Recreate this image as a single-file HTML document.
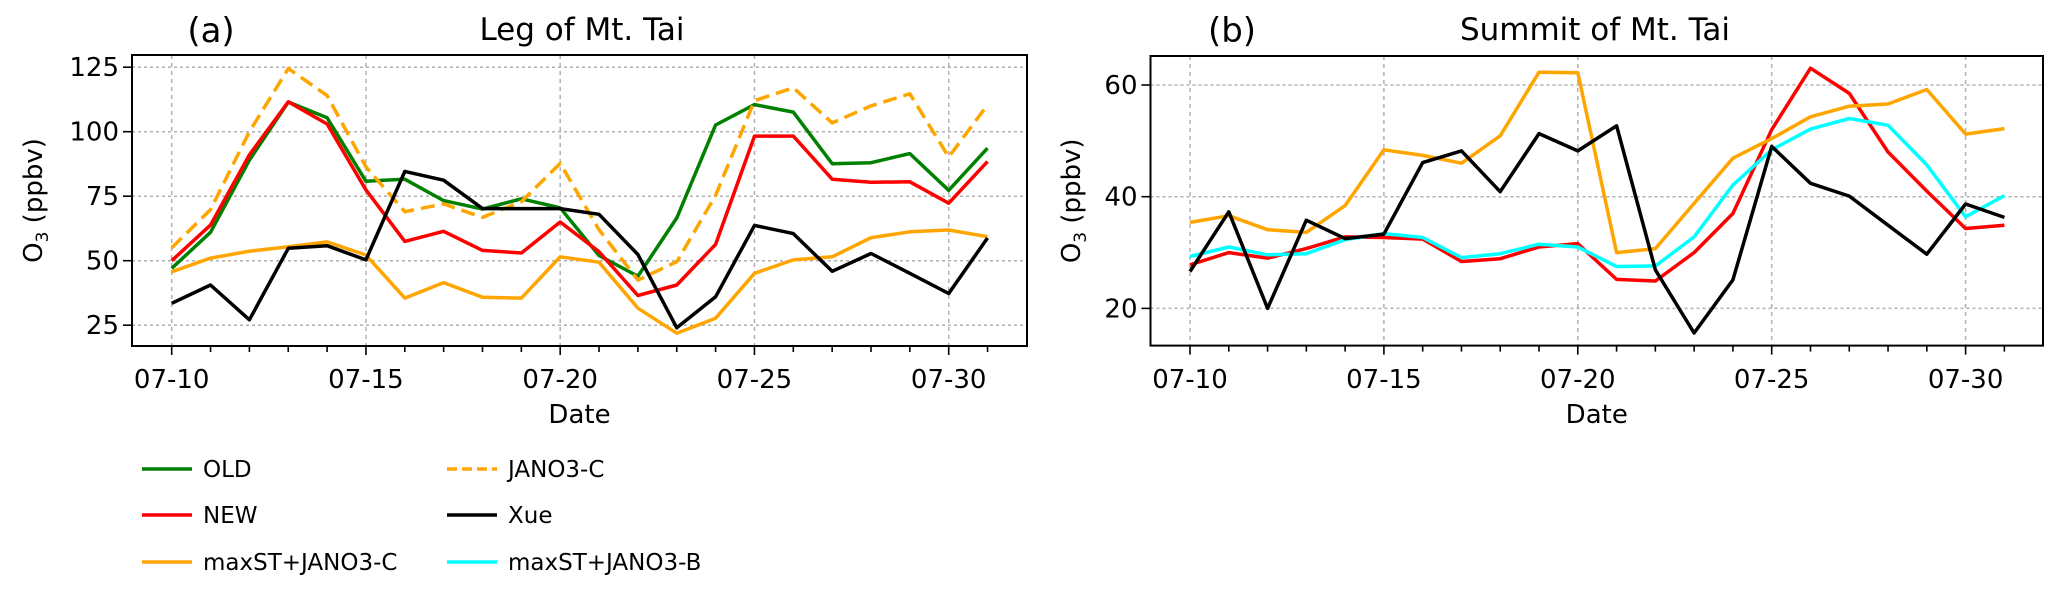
<!DOCTYPE html>
<html><head><meta charset="utf-8"><style>
html,body{margin:0;padding:0;background:#fff;}
svg text{font-family:"DejaVu Sans","Liberation Sans",sans-serif;fill:#000;}
</style></head><body>
<svg id="chart" xmlns="http://www.w3.org/2000/svg" width="2067" height="589" viewBox="0 0 2067 589"></svg>
<script>
const days = [10,11,12,13,14,15,16,17,18,19,20,21,22,23,24,25,26,27,28,29,30,31];
const xTickDays = [10,15,20,25,30];
const xTickLabels = ["07-10","07-15","07-20","07-25","07-30"];
const aYTicks = [25,50,75,100,125];
const bYTicks = [20,40,60];
// Panel (a) Leg of Mt. Tai
const aOLD = [47,61,89,111.5,105.4,80.8,81.6,73.3,70,74,70.5,52,44,66.6,102.6,110.5,107.6,87.6,88,91.5,77.3,93.6];
const aNEW = [50,63.8,91,111.6,103,77.5,57.5,61.4,54,53,65,53.5,36.5,40.6,56.3,98.3,98.3,81.6,80.4,80.6,72.3,88.4];
const aJANO3C = [55,69.8,100,124.5,114,86.4,69,72,66.8,72.9,87.7,62,42.5,49.6,75.3,112,117,103.4,110,114.7,90.2,110.4];
const aMaxC = [45.7,51,53.7,55.4,57.3,52.2,35.5,41.5,35.8,35.5,51.5,49.4,31.6,21.9,27.7,45.1,50.3,51.5,58.9,61.2,61.9,59.3];
const aXue = [33.5,40.6,27.1,54.8,55.8,50.3,84.6,81.2,70.2,70.2,70.2,68,52.4,24,36,63.7,60.5,45.9,52.8,45.1,37.3,58.8];
// Panel (b) Summit of Mt. Tai
const bMaxC = [35.4,36.6,34.1,33.6,38.4,48.4,47.4,46,50.9,62.3,62.2,30,30.7,38.8,46.9,50.4,54.3,56.2,56.6,59.2,51.2,52.2];
const bXue = [26.6,37.3,20,35.8,32.5,33.3,46.1,48.2,40.9,51.3,48.2,52.7,26.9,15.6,25.1,49,42.4,40.1,34.9,29.7,38.7,36.3];
const bNEW = [27.8,30,29,30.7,32.8,32.7,32.4,28.4,28.9,31,31.6,25.2,24.9,30,37,52,63,58.5,48,41,34.3,34.9];
const bMaxB = [29.3,31,29.6,29.8,32.3,33.4,32.7,29.1,29.8,31.5,31,27.5,27.6,32.8,42.1,48.4,52.1,54,52.8,45.7,36.4,40.2];

const NS="http://www.w3.org/2000/svg";
const svg=document.getElementById('chart');
function mk(tag,attrs,parent){const e=document.createElementNS(NS,tag);for(const k in attrs)e.setAttribute(k,attrs[k]);(parent||svg).appendChild(e);return e;}

function panel(cfg){
  const g=mk('g',{});
  
  
  const {L,R,T,B}=cfg;
  const xs=d=>cfg.x0+(d-10)*cfg.dx;
  const ys=v=>cfg.yRef+(cfg.vRef-v)*cfg.dy;
  cfg.yTicks.forEach(v=>{
    const l=mk('line',{x1:L,x2:R,y1:ys(v),y2:ys(v),stroke:'#b0b0b0','stroke-width':1.5,'stroke-dasharray':'3,3'},g);
    
    
  });
  xTickDays.forEach(d=>{
    const l=mk('line',{x1:xs(d),x2:xs(d),y1:T,y2:B,stroke:'#b0b0b0','stroke-width':1.5,'stroke-dasharray':'4,4'},g);
    
    
  });
  cfg.series.forEach(s=>{
    const pts=s.data.map((v,i)=>xs(days[i]).toFixed(1)+','+ys(v).toFixed(1)).join(' ');
    const a={points:pts,fill:'none',stroke:s.color,'stroke-width':3.5,'stroke-linejoin':'round'};
    if(s.dash)a['stroke-dasharray']='14,7';
    const p=mk('polyline',a,g);
    
    
  });
  const fr=mk('rect',{x:L,y:T,width:R-L,height:B-T,fill:'none',stroke:'#000','stroke-width':2},g);
  
  
  cfg.yTicks.forEach(v=>{
    mk('line',{x1:L-9,x2:L,y1:ys(v),y2:ys(v),stroke:'#000','stroke-width':1.6},g);
    const t=mk('text',{x:L-13,y:ys(v)+9,'text-anchor':'end','font-size':26},g);
    t.textContent=v;
    
    
  });
  days.forEach(d=>{
    const major=xTickDays.includes(d);
    mk('line',{x1:xs(d),x2:xs(d),y1:B,y2:B+(major?9:6),stroke:'#000','stroke-width':1.6},g);
  });
  xTickDays.forEach((d,i)=>{
    const t=mk('text',{x:xs(d),y:388,'text-anchor':'middle','font-size':26},g);
    t.textContent=xTickLabels[i];
    
    
  });
  const xt=mk('text',{x:(L+R)/2,y:423,'text-anchor':'middle','font-size':26},g);
  xt.textContent='Date';
  
  
  const yt=mk('text',{x:0,y:0,'text-anchor':'middle','font-size':26,transform:`translate(${cfg.ylabX},${(T+B)/2}) rotate(-90)`},g);
  yt.innerHTML='O<tspan font-size="17" dy="6">3</tspan><tspan dy="-6"> (ppbv)</tspan>';
  
  
  const pl=mk('text',{x:cfg.labX,y:42,'text-anchor':'middle','font-size':34},g);
  pl.textContent=cfg.label;
  
  
  const ti=mk('text',{x:cfg.titleX,y:40,'text-anchor':'middle','font-size':31},g);
  ti.textContent=cfg.title;
  
  
}

panel({name:'panel-a-leg',L:132,R:1027,T:55,B:346,x0:171.7,dx:38.85,yRef:67.2,vRef:125,dy:2.58,
  yTicks:aYTicks,ylabX:42,labX:211,label:'(a)',titleX:582,title:'Leg  of Mt. Tai',
  series:[{id:'a-line-old',data:aOLD,color:'#008000'},{id:'a-line-new',data:aNEW,color:'#ff0000'},
    {id:'a-line-maxst-jano3-c',data:aMaxC,color:'#ffa500'},{id:'a-line-jano3-c',data:aJANO3C,color:'#ffa500',dash:true},
    {id:'a-line-xue',data:aXue,color:'#000000'}]});
panel({name:'panel-b-summit',L:1150.5,R:2043,T:56,B:345.6,x0:1190,dx:38.78,yRef:85,vRef:60,dy:5.585,
  yTicks:bYTicks,ylabX:1080,labX:1232,label:'(b)',titleX:1595,title:'Summit of Mt. Tai',
  series:[{id:'b-line-new',data:bNEW,color:'#ff0000'},{id:'b-line-maxst-jano3-b',data:bMaxB,color:'#00ffff'},
    {id:'b-line-maxst-jano3-c',data:bMaxC,color:'#ffa500'},{id:'b-line-xue',data:bXue,color:'#000000'}]});

const legItems=[
  {label:'OLD',color:'#008000',x:142,y:469},{label:'NEW',color:'#ff0000',x:142,y:515},{label:'maxST+JANO3-C',color:'#ffa500',x:142,y:562},
  {label:'JANO3-C',color:'#ffa500',x:447,y:469,dash:true},{label:'Xue',color:'#000000',x:447,y:515},{label:'maxST+JANO3-B',color:'#00ffff',x:447,y:562}];
const lg=mk('g',{});


legItems.forEach(it=>{
  const e=mk('g',{},lg);
  
  
  const a={x1:it.x,x2:it.x+50,y1:it.y,y2:it.y,stroke:it.color,'stroke-width':3.5};
  if(it.dash)a['stroke-dasharray']='10,5';
  mk('line',a,e);
  const t=mk('text',{x:it.x+61,y:it.y+8,'font-size':23},e);
  t.textContent=it.label;
});
</script>
</body></html>
